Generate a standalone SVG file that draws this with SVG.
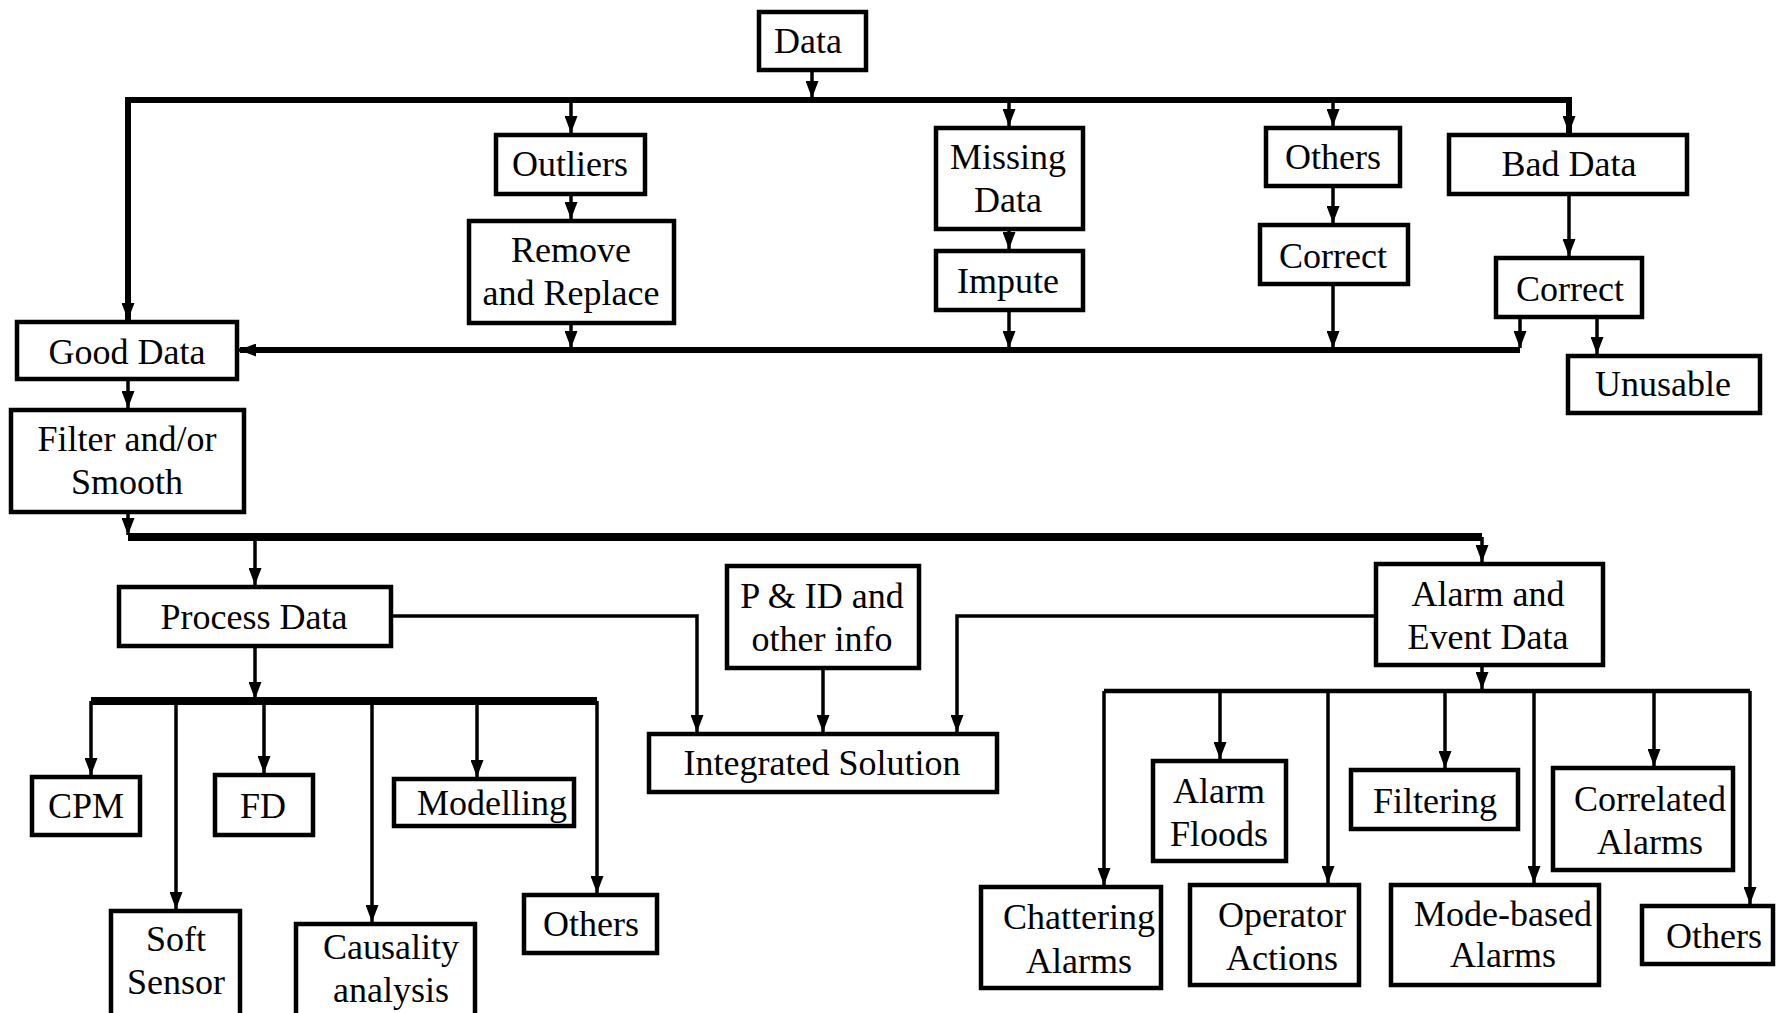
<svg xmlns="http://www.w3.org/2000/svg" width="1776" height="1013" viewBox="0 0 1776 1013">
<defs>
<style>
.box{fill:#fff;stroke:#000;stroke-width:4.5}
.t{font-family:"Liberation Serif","Times New Roman",serif;font-size:36px;fill:#000;text-anchor:middle}
.c{fill:none;stroke:#000;stroke-width:3.5}
.bus{fill:none;stroke:#000;stroke-width:6}
.bus2{fill:none;stroke:#000;stroke-width:8}
</style>
<marker id="ah" viewBox="0 0 17 13" refX="17" refY="6.5" markerWidth="17" markerHeight="13" markerUnits="userSpaceOnUse" orient="auto">
<path d="M0,0 L17,6.5 L0,13 z" fill="#000"/>
</marker>
</defs>
<rect width="1776" height="1013" fill="#fff"/>

<g id="connectors">
<path class="c" d="M812,70 V98" marker-end="url(#ah)"/>
<path class="bus" d="M128,322 V100 H1569 V133"/>
<path class="c" d="M128,100 V320" marker-end="url(#ah)"/>
<path class="c" d="M1569,100 V133" marker-end="url(#ah)"/>
<path class="c" d="M571,100 V133" marker-end="url(#ah)"/>
<path class="c" d="M1009,100 V126" marker-end="url(#ah)"/>
<path class="c" d="M1333,100 V126" marker-end="url(#ah)"/>
<path class="c" d="M571,194 V219" marker-end="url(#ah)"/>
<path class="c" d="M1009,229 V249" marker-end="url(#ah)"/>
<path class="c" d="M1333,186 V223" marker-end="url(#ah)"/>
<path class="c" d="M1569,194 V256" marker-end="url(#ah)"/>
<path class="bus" d="M1520,350 H240"/>
<path class="c" d="M1520,350 H239" marker-end="url(#ah)"/>
<path class="c" d="M571,323 V348" marker-end="url(#ah)"/>
<path class="c" d="M1009,310 V348" marker-end="url(#ah)"/>
<path class="c" d="M1333,284 V348" marker-end="url(#ah)"/>
<path class="c" d="M1520,317 V348" marker-end="url(#ah)"/>
<path class="c" d="M1597,317 V354" marker-end="url(#ah)"/>
<path class="c" d="M128,379 V408" marker-end="url(#ah)"/>
<path class="c" d="M128,512 V535" marker-end="url(#ah)"/>
<path class="bus2" d="M128,537 H1482"/>
<path class="c" d="M255,537 V585" marker-end="url(#ah)"/>
<path class="c" d="M1482,537 V562" marker-end="url(#ah)"/>
<path class="c" d="M391,616 H697 V732" marker-end="url(#ah)"/>
<path class="c" d="M823,668 V732" marker-end="url(#ah)"/>
<path class="c" d="M1376,616 H957 V732" marker-end="url(#ah)"/>
<path class="c" d="M255,646 V699" marker-end="url(#ah)"/>
<path class="bus2" d="M91,701 H597"/>
<path class="c" d="M91,701 V775" marker-end="url(#ah)"/>
<path class="c" d="M176,701 V909" marker-end="url(#ah)"/>
<path class="c" d="M264,701 V773" marker-end="url(#ah)"/>
<path class="c" d="M372,701 V922" marker-end="url(#ah)"/>
<path class="c" d="M477,701 V777" marker-end="url(#ah)"/>
<path class="c" d="M597,701 V893" marker-end="url(#ah)"/>
<path class="c" d="M1482,665 V689" marker-end="url(#ah)"/>
<path class="bus" d="M1104,691 H1750" style="stroke-width:4.5"/>
<path class="c" d="M1104,691 V885" marker-end="url(#ah)"/>
<path class="c" d="M1220,691 V759" marker-end="url(#ah)"/>
<path class="c" d="M1328,691 V883" marker-end="url(#ah)"/>
<path class="c" d="M1445,691 V768" marker-end="url(#ah)"/>
<path class="c" d="M1534,691 V883" marker-end="url(#ah)"/>
<path class="c" d="M1654,691 V766" marker-end="url(#ah)"/>
<path class="c" d="M1750,691 V904" marker-end="url(#ah)"/>
</g>

<g id="data"><rect class="box" x="759" y="12" width="107" height="58"/><text class="t" x="808" y="53">Data</text></g>
<g id="outliers"><rect class="box" x="496" y="135" width="149" height="59"/><text class="t" x="570" y="176">Outliers</text></g>
<g id="remove"><rect class="box" x="469" y="221" width="205" height="102"/><text class="t" x="571" y="262">Remove</text><text class="t" x="571" y="305">and Replace</text></g>
<g id="missing"><rect class="box" x="936" y="128" width="147" height="101"/><text class="t" x="1008" y="169">Missing</text><text class="t" x="1008" y="212">Data</text></g>
<g id="impute"><rect class="box" x="936" y="251" width="147" height="59"/><text class="t" x="1008" y="293">Impute</text></g>
<g id="others-top"><rect class="box" x="1266" y="128" width="134" height="58"/><text class="t" x="1333" y="169">Others</text></g>
<g id="correct1"><rect class="box" x="1260" y="225" width="148" height="59"/><text class="t" x="1333" y="268">Correct</text></g>
<g id="bad-data"><rect class="box" x="1449" y="135" width="238" height="59"/><text class="t" x="1569" y="176">Bad Data</text></g>
<g id="correct2"><rect class="box" x="1496" y="258" width="146" height="59"/><text class="t" x="1570" y="301">Correct</text></g>
<g id="unusable"><rect class="box" x="1568" y="356" width="192" height="57"/><text class="t" x="1663" y="396">Unusable</text></g>
<g id="good-data"><rect class="box" x="17" y="322" width="220" height="57"/><text class="t" x="127" y="364">Good Data</text></g>
<g id="filter"><rect class="box" x="11" y="410" width="233" height="102"/><text class="t" x="127" y="451">Filter and/or</text><text class="t" x="127" y="494">Smooth</text></g>
<g id="process-data"><rect class="box" x="119" y="587" width="272" height="59"/><text class="t" x="254" y="629">Process Data</text></g>
<g id="pid"><rect class="box" x="727" y="566" width="192" height="102"/><text class="t" x="822" y="608">P &amp; ID and</text><text class="t" x="822" y="651">other info</text></g>
<g id="integrated"><rect class="box" x="649" y="734" width="348" height="58"/><text class="t" x="822" y="775">Integrated Solution</text></g>
<g id="alarm-event"><rect class="box" x="1376" y="564" width="227" height="101"/><text class="t" x="1488" y="606">Alarm and</text><text class="t" x="1488" y="649">Event Data</text></g>
<g id="cpm"><rect class="box" x="32" y="777" width="108" height="58"/><text class="t" x="86" y="818">CPM</text></g>
<g id="soft-sensor"><rect class="box" x="111" y="911" width="129" height="106"/><text class="t" x="176" y="951">Soft</text><text class="t" x="176" y="994">Sensor</text></g>
<g id="fd"><rect class="box" x="215" y="775" width="98" height="60"/><text class="t" x="263" y="818">FD</text></g>
<g id="causality"><rect class="box" x="296" y="924" width="179" height="95"/><text class="t" x="391" y="959">Causality</text><text class="t" x="391" y="1002">analysis</text></g>
<g id="modelling"><rect class="box" x="394" y="779" width="180" height="47"/><text class="t" x="492" y="815">Modelling</text></g>
<g id="others-proc"><rect class="box" x="524" y="895" width="133" height="58"/><text class="t" x="591" y="936">Others</text></g>
<g id="chattering"><rect class="box" x="981" y="887" width="180" height="101"/><text class="t" x="1079" y="929">Chattering</text><text class="t" x="1079" y="973">Alarms</text></g>
<g id="floods"><rect class="box" x="1153" y="761" width="133" height="100"/><text class="t" x="1219" y="803">Alarm</text><text class="t" x="1219" y="846">Floods</text></g>
<g id="operator"><rect class="box" x="1190" y="885" width="169" height="100"/><text class="t" x="1282" y="927">Operator</text><text class="t" x="1282" y="970">Actions</text></g>
<g id="filtering"><rect class="box" x="1351" y="770" width="167" height="59"/><text class="t" x="1435" y="813">Filtering</text></g>
<g id="mode-based"><rect class="box" x="1391" y="885" width="208" height="100"/><text class="t" x="1503" y="926">Mode-based</text><text class="t" x="1503" y="967">Alarms</text></g>
<g id="correlated"><rect class="box" x="1553" y="768" width="180" height="102"/><text class="t" x="1650" y="811">Correlated</text><text class="t" x="1650" y="854">Alarms</text></g>
<g id="others-alarm"><rect class="box" x="1642" y="906" width="131" height="58"/><text class="t" x="1714" y="948">Others</text></g>
</svg>
